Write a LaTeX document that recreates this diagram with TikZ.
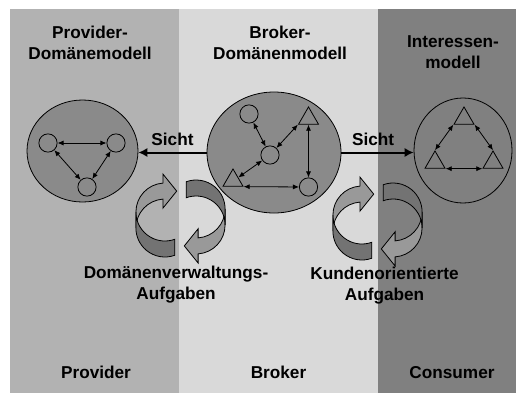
\documentclass[tikz,border=0pt]{standalone}
\usepackage{fontspec}
\setmainfont{Liberation Sans}
\usetikzlibrary{positioning, shapes.geometric, arrows.meta}
\tikzset{
	lbl/.style={font=\bfseries\fontsize{12.9}{15.75}\selectfont, align=center, inner sep=0pt},
	model/.style n args={2}{
		draw, % outline
		ellipse, % shape of the model
		fill=black!46,
		line width=0.6pt,
		minimum width=#1, % width of the model
		minimum height=#2, % height of the model
		inner sep=0pt
	},
	obj/.style={draw, circle, line width=0.6pt, minimum size=13.7pt, inner sep=0pt},
	tri/.style={draw, regular polygon, regular polygon sides=3, line width=0.6pt, minimum size=17.3pt, inner sep=0pt},
	link/.style={line width=0.6pt, {Latex[length=4.5pt,width=3.8pt]}-{Latex[length=4.5pt,width=3.8pt]}},
	sicht/.style={line width=1.5pt, -{Latex[length=6.75pt,width=7pt]}},
	ribbonlight/.style={fill=black!40, draw=black, line width=0.6pt},
	ribbondark/.style={fill=black!55, draw=black, line width=0.6pt}
}
% one loop of the round arrow, drawn round (0,0)
\newcommand{\ribbonloop}{%
	\filldraw[ribbonlight] (-17.6,-35.4) arc[start angle=-94, end angle=-180, radius=29] -- ++(0,16)
		arc[start angle=-180, end angle=-94, radius=29] -- (-17.6,-10.3) -- (-3.8,-27.4) -- (-17.6,-44.5) -- cycle;
	\filldraw[ribbondark] (-44.6,-6.5) arc[start angle=-180, end angle=-290, radius=29] -- ++(0,16)
		arc[start angle=-290, end angle=-180, radius=29] -- cycle;
}
\newcommand{\ribbonpair}[1]{%
	\begin{scope}[shift={#1}]
		\ribbonloop
		\begin{scope}[rotate=180]
			\ribbonloop
		\end{scope}
	\end{scope}
}

\begin{document}
\begin{tikzpicture}[x=0.75pt, y=-0.75pt]
	\useasboundingbox (0,0) rectangle (516,393);
	
	% lanes
	\fill[black!30] (10,9) rectangle (179,393);
	\fill[black!15] (179,9) rectangle (378,393);
	\fill[black!50] (378,9) rectangle (516,393);
	
	\node[lbl] (provhead) at (90,42.5) {Provider-\\Domänemodell};
	\node[lbl] (brokhead) at (280,42.5) {Broker-\\Domänenmodell};
	\node[lbl] (inthead) at (453,52) {Interessen-\\modell};
	
	% provider model
	\node[model={83.25pt}{76.5pt}] (provider) at (82.5,151) {};
	\node[obj] (p1) at (48,143) {};
	\node[obj] (p2) at (116,143) {};
	\node[obj] (p3) at (87,187) {};
	\draw[link] (p1) -- (p2);
	\draw[link] (p1) -- (p3);
	\draw[link] (p2) -- (p3);
	
	% broker model
	\node[model={100.5pt}{90.75pt}] (broker) at (274,152.5) {};
	\node[obj] (b1) at (249,114) {};
	\node[obj] (b2) at (270,155) {};
	\node[obj] (b3) at (308.5,187) {};
	\node[tri] (bt1) at (308.5,118.5) {};
	\node[tri] (bt2) at (233,180.5) {};
	\draw[link] (b1) -- (b2);
	\draw[link] (b2) -- (bt1.corner 2);
	\draw[link] (b2) -- (bt2.side 3);
	\draw[link] (bt1.side 2) -- (b3);
	\draw[link] (bt2.corner 3) -- (b3);
	
	% interest model
	\node[model={73.5pt}{78.75pt}, fill=black!50] (interest) at (463,150.5) {};
	\node[tri] (it1) at (464,118.5) {};
	\node[tri] (it2) at (435,162.5) {};
	\node[tri] (it3) at (493,162.5) {};
	\draw[link] (it1.corner 2) -- (it2.corner 1);
	\draw[link] (it1.corner 3) -- (it3.corner 1);
	\draw[link] (it2.corner 3) -- (it3.corner 2);
	
	\draw[sicht] (broker.west) -- (provider.east |- broker.west) node[lbl, above=4.5pt, midway] (sichtL) {Sicht};
	\draw[sicht] (broker.east) -- (interest.west |- broker.east) node[lbl, above=4.5pt, pos=0.44] (sichtR) {Sicht};
	
	% tasks
	\ribbonpair{(180.5,218.5)}
	\ribbonpair{(377.5,221.5)}
	\node[lbl] (verw) at (176,285) {Domänenverwaltungs-\\Aufgaben};
	\node[lbl] (kunde) at (384.5,286) {Kundenorientierte\\Aufgaben};
	
	\node[lbl, anchor=base] (prov) at (96,378) {Provider};
	\node[lbl, anchor=base] (brok) at (278.5,378) {Broker};
	\node[lbl, anchor=base] (cons) at (452,378) {Consumer};
	
\end{tikzpicture}
\end{document}
